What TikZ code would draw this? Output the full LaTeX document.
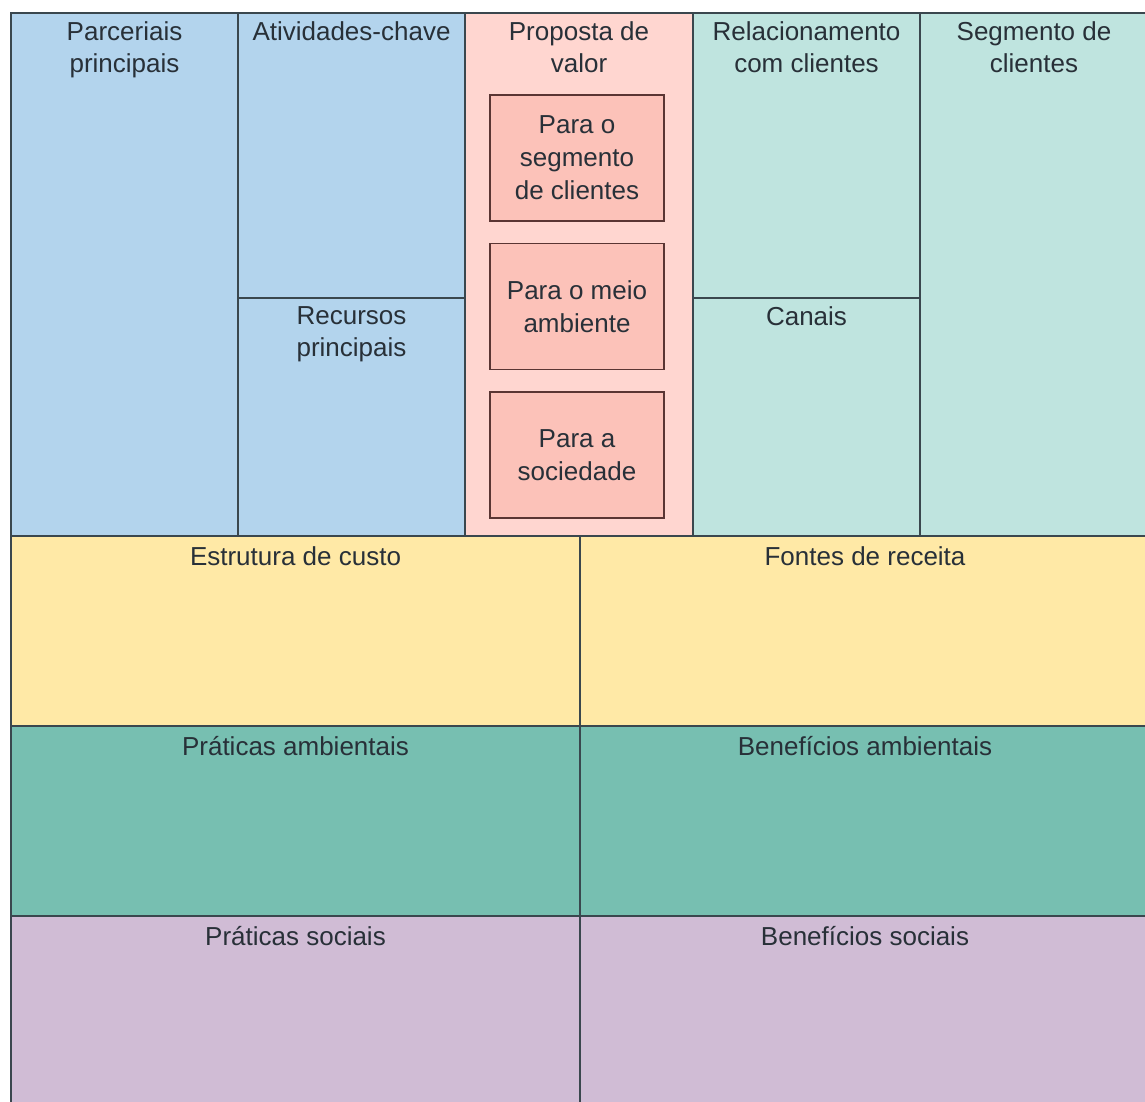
\documentclass[tikz,border=0pt]{standalone}
\usepackage{fontspec}
\setmainfont{Liberation Sans}
\usetikzlibrary{positioning}
\definecolor{gridline}{HTML}{3A474E}
\definecolor{textdark}{HTML}{283038}
\definecolor{bluecell}{HTML}{B3D4ED}
\definecolor{pinkcell}{HTML}{FFD6D0}
\definecolor{valuefill}{HTML}{FCC2B9}
\definecolor{valueline}{HTML}{5A3533}
\definecolor{tealcell}{HTML}{BFE4DF}
\definecolor{yellowcell}{HTML}{FFE9A6}
\definecolor{greencell}{HTML}{77BFB1}
\definecolor{purplecell}{HTML}{D0BCD5}
\tikzstyle{cell}=[rectangle,draw=gridline,line width=2pt,inner sep=0pt]
\tikzstyle{valuebox}=[rectangle,fill=valuefill,draw=valueline,line width=1.6pt,minimum width=174pt,minimum height=126pt,align=center,text=textdark,font=\fontsize{26}{33}\selectfont]
\tikzstyle{title}=[align=center,inner sep=0pt,text=textdark,font=\fontsize{26}{32}\selectfont]

\begin{document}
\begin{tikzpicture}[x=1pt,y=-1pt]
	\useasboundingbox (0,0) rectangle (1145,1102);
	\fill [white] (0,0) rectangle (1145,1102);
	% upper block
	\node [cell,fill=bluecell,minimum width=227pt,minimum height=523pt] (pp) at (124.5,274.5) {};
	\node [cell,fill=bluecell,minimum width=227pt,minimum height=285pt] (ac) at (351.5,155.5) {};
	\node [cell,fill=bluecell,minimum width=227pt,minimum height=238pt] (rp) at (351.5,417) {};
	\node [cell,fill=pinkcell,minimum width=228pt,minimum height=523pt] (pv) at (579,274.5) {};
	\node [cell,fill=tealcell,minimum width=227pt,minimum height=285pt] (rc) at (806.5,155.5) {};
	\node [cell,fill=tealcell,minimum width=227pt,minimum height=238pt] (ca) at (806.5,417) {};
	\node [cell,fill=tealcell,minimum width=230pt,minimum height=523pt] (sc) at (1035,274.5) {};
	% lower rows
	\node [cell,fill=yellowcell,minimum width=569pt,minimum height=190pt] (ec) at (295.5,631) {};
	\node [cell,fill=yellowcell,minimum width=570pt,minimum height=190pt] (fr) at (865,631) {};
	\node [cell,fill=greencell,minimum width=569pt,minimum height=190pt] (pa) at (295.5,821) {};
	\node [cell,fill=greencell,minimum width=570pt,minimum height=190pt] (ba) at (865,821) {};
	\node [cell,fill=purplecell,minimum width=569pt,minimum height=194pt] (ps) at (295.5,1013) {};
	\node [cell,fill=purplecell,minimum width=570pt,minimum height=194pt] (bs) at (865,1013) {};
	% titles
	\node [title,below=9pt of pp.north] (ppt) {Parceriais\\principais};
	\node [title,below=9pt of ac.north] (act) {Atividades-chave};
	\node [title,below=9pt of rp.north] (rpt) {Recursos\\principais};
	\node [title,below=9pt of pv.north] (pvt) {Proposta de\\valor};
	\node [title,below=9pt of rc.north] (rct) {Relacionamento\\com clientes};
	\node [title,below=9pt of ca.north] (cat) {Canais};
	\node [title,below=9pt of sc.north,xshift=-1pt] (sct) {Segmento de\\clientes};
	\node [title,below=11pt of ec.north] (ect) {Estrutura de custo};
	\node [title,below=11pt of fr.north] (frt) {Fontes de receita};
	\node [title,below=11pt of pa.north] (pat) {Práticas ambientais};
	\node [title,below=11pt of ba.north] (bat) {Benefícios ambientais};
	\node [title,below=11pt of ps.north] (pst) {Práticas sociais};
	\node [title,below=11pt of bs.north] (bst) {Benefícios sociais};
	% value boxes
	\node [valuebox] (v1) at (577,158) {Para o\\segmento\\de clientes};
	\node [valuebox,below=21pt of v1] (v2) {Para o meio\\ambiente};
	\node [valuebox,below=21pt of v2] (v3) {Para a\\sociedade};
\end{tikzpicture}
\end{document}
